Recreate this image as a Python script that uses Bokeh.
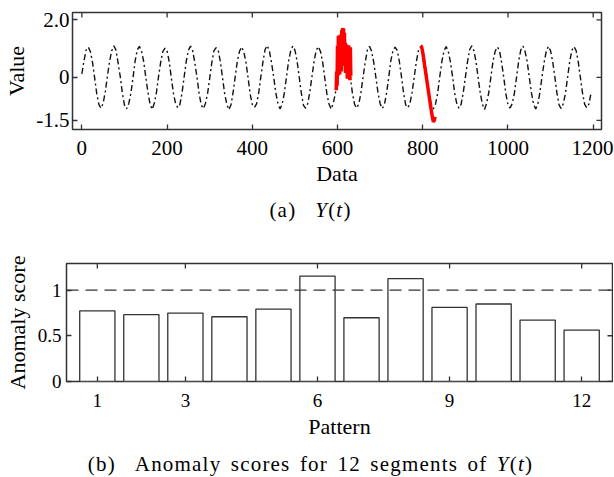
import numpy as np
from bokeh.plotting import figure
from bokeh.models import FixedTicker, Span, Div
from bokeh.embed import file_html
from bokeh.resources import INLINE

# ---------------- data: panel (a) ----------------
# series Y(t), read every 5 samples (t = 0, 5, ..., 1195), one row per cycle of 60 samples
y_cycles = [
    [0.12, 0.58, 0.95, 1.05, 0.90, 0.52, -0.02, -0.58, -0.95, -1.08, -0.90, -0.50],
    [0.05, 0.55, 0.92, 1.10, 0.95, 0.50, 0.03, -0.55, -0.97, -1.10, -0.92, -0.56],
    [-0.02, 0.57, 0.96, 1.08, 0.91, 0.56, 0.01, -0.52, -0.94, -1.12, -0.90, -0.53],
    [0.03, 0.53, 0.90, 1.02, 0.92, 0.54, -0.03, -0.57, -0.92, -1.06, -0.95, -0.55],
    [0.01, 0.56, 0.94, 1.09, 0.93, 0.51, 0.02, -0.54, -0.96, -1.09, -0.91, -0.57],
    [-0.03, 0.52, 0.93, 1.03, 0.94, 0.55, 0.00, -0.56, -0.93, -1.13, -0.96, -0.52],
    [0.04, 0.58, 0.91, 1.06, 0.89, 0.53, -0.01, -0.59, -0.95, -1.05, -0.93, -0.54],
    [0.02, 0.54, 0.97, 1.11, 0.92, 0.52, 0.03, -0.53, -0.91, -1.10, -0.94, -0.56],
    [-0.01, 0.55, 0.92, 1.09, 0.95, 0.57, 0.02, -0.55, -0.97, -1.08, -0.92, -0.51],
    [0.03, 0.57, 0.94, 1.07, 0.90, 0.54, -0.02, -0.57, -0.93, -1.11, -0.90, -0.55],
    [0.00, 0.56, 0.93, 1.06, 0.92, 0.55, 0.01, -0.56, -0.94, -1.07, -0.93, -0.53],
    [0.02, 0.53, 0.95, 1.08, 0.91, 0.52, 0.00, -0.54, -0.92, -1.09, -0.95, -0.56],
    [-0.02, 0.57, 0.92, 1.05, 0.94, 0.56, 0.03, -0.55, -0.96, -1.06, -0.91, -0.52],
    [0.01, 0.55, 0.94, 1.08, 0.92, 0.54, -0.01, -0.58, -0.95, -1.10, -0.93, -0.55],
    [0.03, 0.56, 0.93, 1.07, 0.90, 0.53, 0.02, -0.56, -0.93, -1.08, -0.94, -0.54],
    [0.00, 0.54, 0.96, 1.10, 0.93, 0.55, -0.02, -0.55, -0.94, -1.12, -0.90, -0.53],
    [0.02, 0.57, 0.91, 1.06, 0.94, 0.52, 0.01, -0.57, -0.96, -1.07, -0.92, -0.56],
    [-0.01, 0.55, 0.95, 1.09, 0.91, 0.56, 0.00, -0.53, -0.93, -1.10, -0.95, -0.52],
    [0.03, 0.53, 0.92, 1.08, 0.92, 0.54, 0.02, -0.56, -0.97, -1.09, -0.91, -0.55],
    [0.01, 0.56, 0.94, 1.07, 0.93, 0.53, -0.01, -0.55, -0.94, -1.06, -0.93, -0.54],
]
y_values = [v for row in y_cycles for v in row]
t_values = list(range(0, 5 * len(y_values), 5))

# anomalous segment 1 (noisy burst), t = 597 ... 631
anom1_t = list(range(597, 632))
anom1_y = [-0.45, 0.20, -0.30, 1.10, 0.05, 1.45, 0.30, 1.40, 0.10, 1.48, 0.45, 1.35,
           0.20, 1.65, 0.60, 1.72, 0.95, 1.70, 0.40, 1.55, 0.85, 1.20, 0.15, 1.15,
           0.55, 1.10, -0.05, 1.08, 0.35, 1.12, 0.10, 0.95, -0.10, 1.05, 0.05]
# anomalous segment 2 (deep drop), t = 795 ... 829
anom2_t = list(range(795, 830, 2))
anom2_y = [1.10, 1.08, 0.95, 0.78, 0.55, 0.35, 0.15, -0.05, -0.25, -0.45, -0.65,
           -0.85, -1.05, -1.25, -1.42, -1.55, -1.50, -1.38]

xrange_a = (-22, 1219.5)
yrange_a = (-1.82, 2.26)
xticks_a = [0, 200, 400, 600, 800, 1000, 1200]
yticks_a = [-1.5, 0, 2.0]
ylabels_a = {-1.5: "-1.5", 0: "0", 2.0: "2.0"}

# ---------------- data: panel (b) ----------------
patterns = [1, 2, 3, 4, 5, 6, 7, 8, 9, 10, 11, 12]
scores = [0.773, 0.730, 0.748, 0.708, 0.792, 1.153, 0.697, 1.124, 0.810, 0.847, 0.672, 0.562]
threshold = 1.0
xrange_b = (0.3, 12.7)
yrange_b = (0, 1.29)
xticks_b = [1, 3, 6, 9, 12]
yticks_b = [0, 0.5, 1]
ylabels_b = {0: "0", 0.5: "0.5", 1: "1"}

FONT = "Liberation Serif"
EDGE = "#333333"
TICK_LEN = 5


def style_axes(p, xr, yr, xt, yt, ylab_over, tick_size):
    p.xgrid.grid_line_color = None
    p.ygrid.grid_line_color = None
    p.outline_line_color = EDGE
    p.outline_line_width = 1.5
    p.outline_line_alpha = 1.0
    p.background_fill_color = "white"
    p.border_fill_color = "white"
    p.xaxis.ticker = FixedTicker(ticks=xt)
    p.yaxis.ticker = FixedTicker(ticks=yt)
    p.yaxis.major_label_overrides = ylab_over
    for ax in list(p.xaxis) + list(p.yaxis):
        ax.axis_line_color = None
        ax.major_tick_in = TICK_LEN
        ax.major_tick_out = 0
        ax.major_tick_line_color = EDGE
        ax.major_tick_line_width = 1.3
        ax.minor_tick_line_color = None
        ax.major_label_text_font = FONT
        ax.major_label_text_font_size = tick_size
        ax.major_label_text_color = "black"
        ax.axis_label_text_font = FONT
        ax.axis_label_text_font_style = "normal"
        ax.axis_label_text_font_size = "22px"
        ax.axis_label_text_color = "black"
    # mirrored inward ticks on top and right edges
    p.ray(x=xt, y=[yr[1]] * len(xt), length=TICK_LEN, length_units="screen",
          angle=-np.pi / 2, line_color=EDGE, line_width=1.3)
    p.ray(x=[xr[1]] * len(yt), y=yt, length=TICK_LEN, length_units="screen",
          angle=np.pi, line_color=EDGE, line_width=1.3)


# ---------------- panel (a) ----------------
pa = figure(width=613, height=182, output_backend="svg", toolbar_location=None,
            x_range=xrange_a, y_range=yrange_a, margin=(8, 0, 0, 0),
            min_border_left=72, min_border_right=12, min_border_top=4, min_border_bottom=61)
pa.line(t_values, y_values, line_color="#111111", line_width=1.4, line_dash="6 3 2 3")
pa.line(anom1_t, anom1_y, line_color="#ff0000", line_width=3.6)
pa.line(anom2_t, anom2_y, line_color="#ff0000", line_width=3.5)
style_axes(pa, xrange_a, yrange_a, xticks_a, yticks_a, ylabels_a, "21px")
pa.xaxis.axis_label = "Data"
pa.xaxis.major_label_standoff = 11
pa.xaxis.axis_label_standoff = 3
pa.yaxis.axis_label = "Value"
pa.yaxis.major_label_standoff = 3
pa.yaxis.axis_label_standoff = 4

cap_style = ("font-family:'Liberation Serif';font-size:21px;text-align:center;"
             "letter-spacing:1.2px;word-spacing:3px;color:black;width:605px;")
cap_a = Div(text='<div style="' + cap_style + 'line-height:16px;padding-top:12px;">'
                 '(a)&nbsp;&nbsp;<i>Y</i>(<i>t</i>)</div>',
            width=605, height=40, margin=(0, 0, 0, 8))

# ---------------- panel (b) ----------------
pb = figure(width=613, height=215, output_backend="svg", toolbar_location=None,
            x_range=xrange_b, y_range=yrange_b, margin=(0, 0, 0, 0),
            min_border_left=66, min_border_right=1, min_border_top=33, min_border_bottom=64)
pb.vbar(x=patterns, top=scores, width=0.8, bottom=0, fill_color="white",
        line_color=EDGE, line_width=1.3)
pb.add_layout(Span(location=threshold, dimension="width", line_color=EDGE,
                   line_width=1.3, line_dash="12 7"))
style_axes(pb, xrange_b, yrange_b, xticks_b, yticks_b, ylabels_b, "19px")
pb.xaxis.axis_label = "Pattern"
pb.xaxis.major_label_standoff = 12
pb.xaxis.axis_label_standoff = 4
pb.yaxis.axis_label = "Anomaly score"
pb.yaxis.major_label_standoff = 5
pb.yaxis.axis_label_standoff = 5

cap_b = Div(text='<div style="' + cap_style + 'line-height:16px;padding-top:11px;">'
                 '(b)&nbsp;&nbsp;Anomaly scores for 12 segments of <i>Y</i>(<i>t</i>)</div>',
            width=605, height=24, margin=(0, 0, 0, 8))

open("out.html", "w").write(file_html([pa, cap_a, pb, cap_b], INLINE))
